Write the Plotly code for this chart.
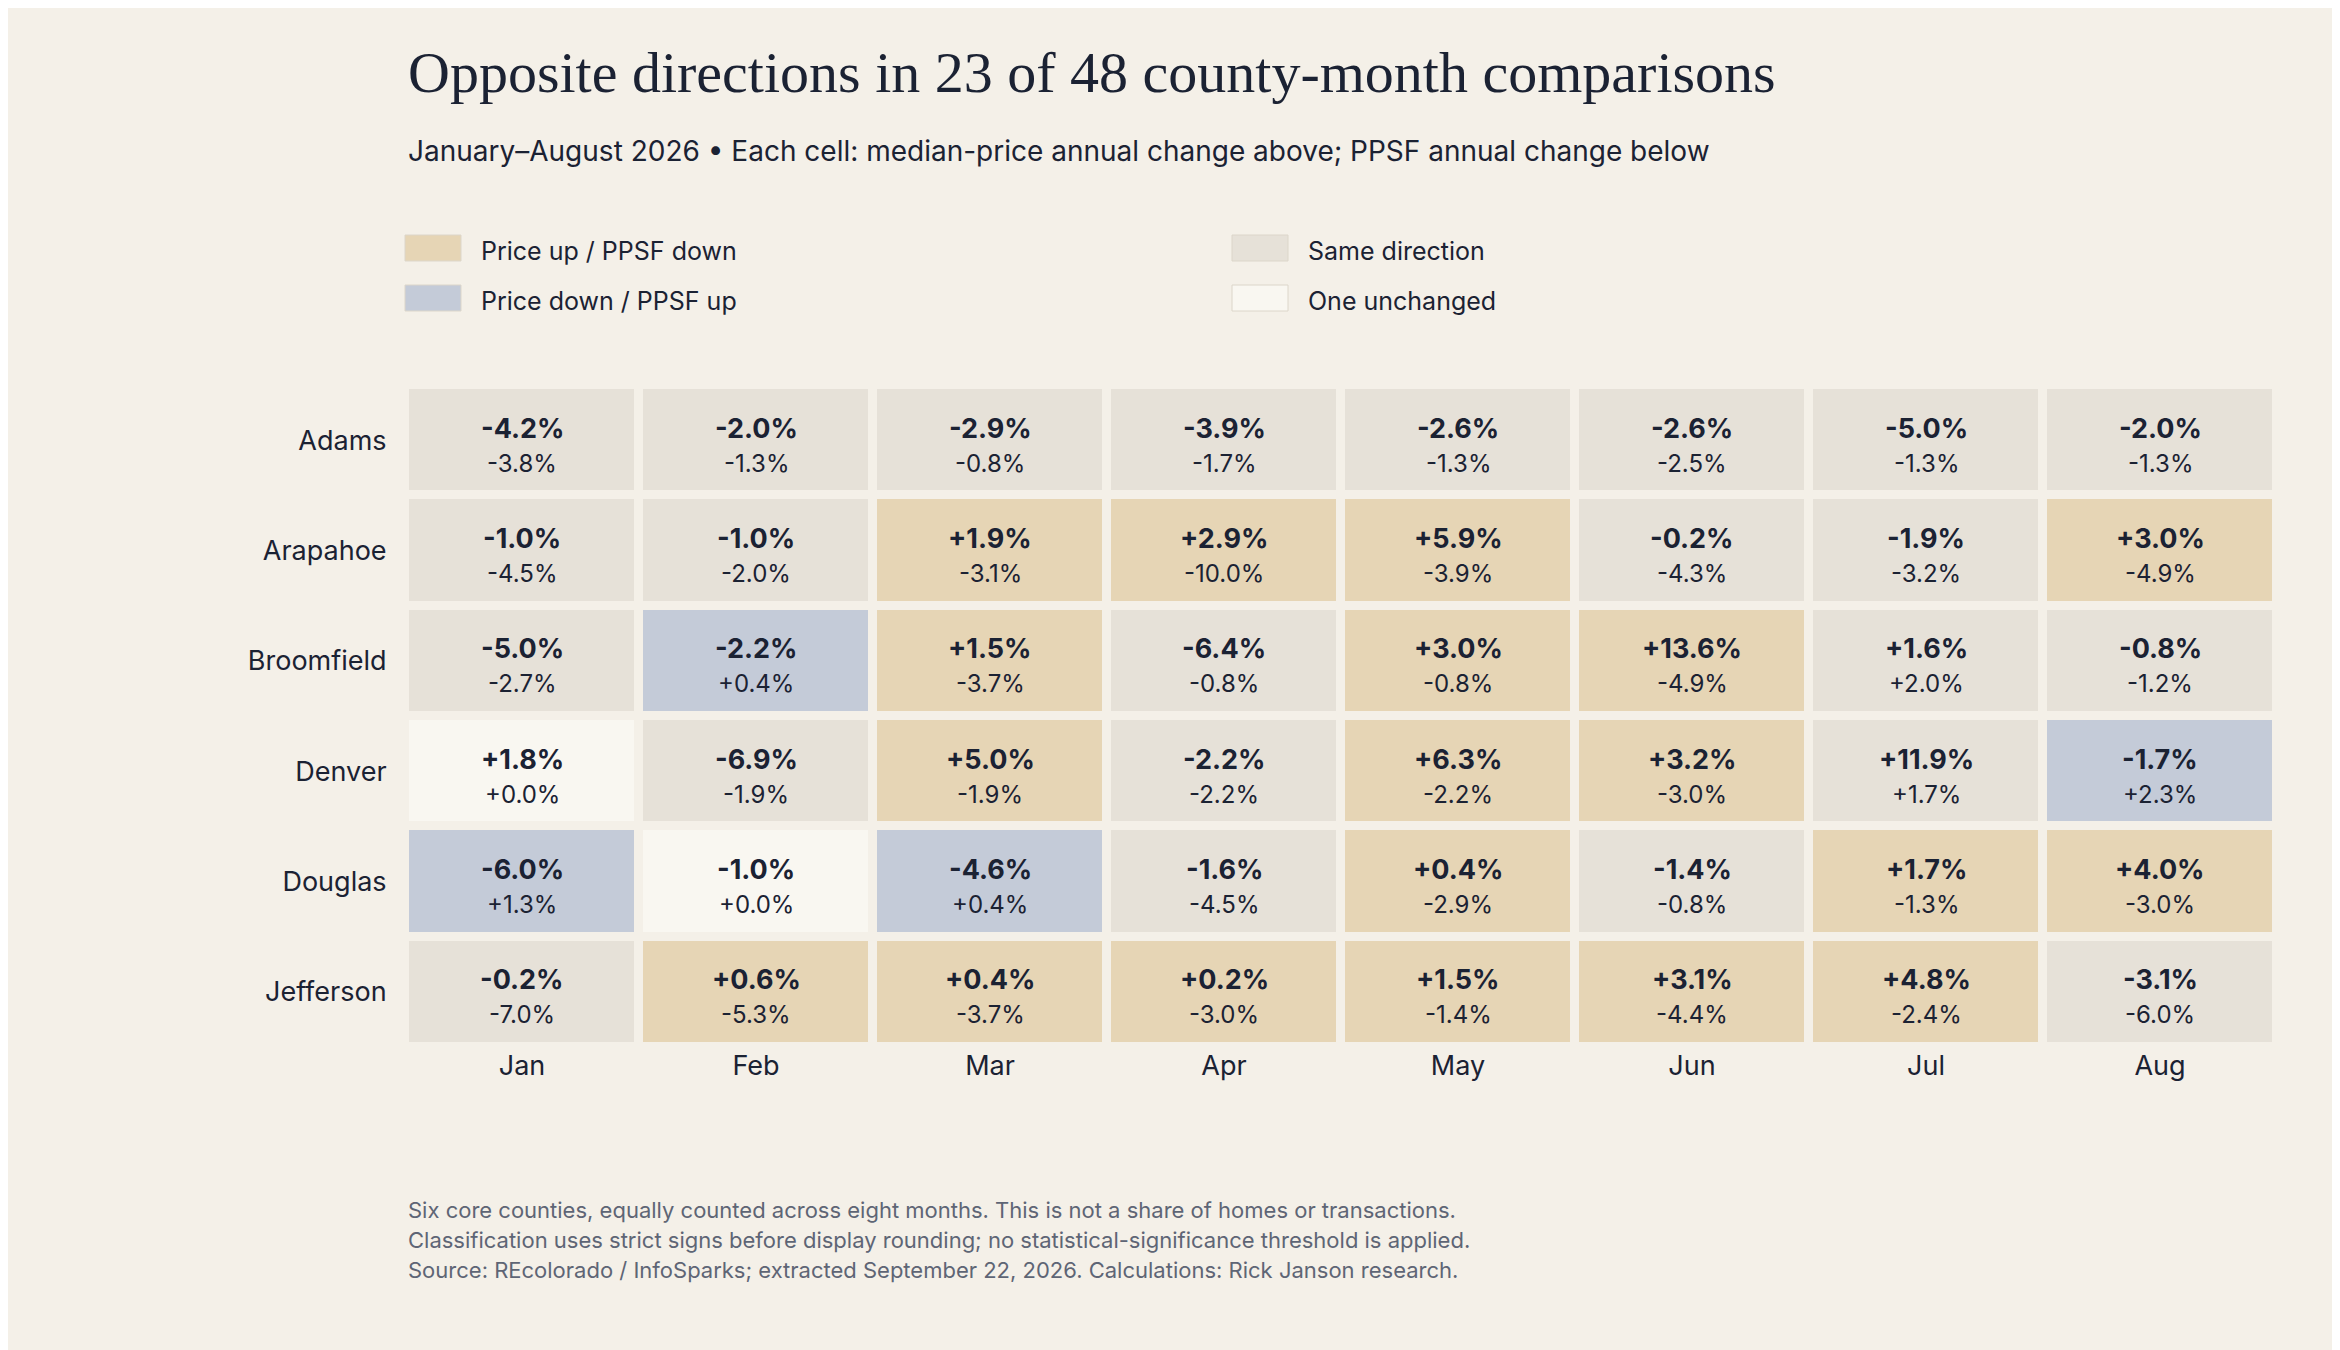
import plotly.graph_objects as go

W, H = 2340, 1350
counties = ["Adams", "Arapahoe", "Broomfield", "Denver", "Douglas", "Jefferson"]
months = ["Jan", "Feb", "Mar", "Apr", "May", "Jun", "Jul", "Aug"]
price = [
    [-4.2, -2.0, -2.9, -3.9, -2.6, -2.6, -5.0, -2.0],
    [-1.0, -1.0, 1.9, 2.9, 5.9, -0.2, -1.9, 3.0],
    [-5.0, -2.2, 1.5, -6.4, 3.0, 13.6, 1.6, -0.8],
    [1.8, -6.9, 5.0, -2.2, 6.3, 3.2, 11.9, -1.7],
    [-6.0, -1.0, -4.6, -1.6, 0.4, -1.4, 1.7, 4.0],
    [-0.2, 0.6, 0.4, 0.2, 1.5, 3.1, 4.8, -3.1],
]
ppsf = [
    [-3.8, -1.3, -0.8, -1.7, -1.3, -2.5, -1.3, -1.3],
    [-4.5, -2.0, -3.1, -10.0, -3.9, -4.3, -3.2, -4.9],
    [-2.7, 0.4, -3.7, -0.8, -0.8, -4.9, 2.0, -1.2],
    [0.0, -1.9, -1.9, -2.2, -2.2, -3.0, 1.7, 2.3],
    [1.3, 0.0, 0.4, -4.5, -2.9, -0.8, -1.3, -3.0],
    [-7.0, -5.3, -3.7, -3.0, -1.4, -4.4, -2.4, -6.0],
]
cat_names = ["Price up / PPSF down", "Price down / PPSF up", "Same direction", "One unchanged"]
cat_colors = ["#E6D5B5", "#C4CBD8", "#E6E1D8", "#F9F7F1"]

def cls(p, q):
    if p == 0 or q == 0:
        return 3
    if p > 0 and q < 0:
        return 0
    if p < 0 and q > 0:
        return 1
    return 2

z = [[cls(p, q) for p, q in zip(pr, qr)] for pr, qr in zip(price, ppsf)]
cs = []
for i, c in enumerate(cat_colors):
    cs += [[i / 4, c], [(i + 1) / 4, c]]

fig = go.Figure(go.Heatmap(z=z, x=months, y=counties, colorscale=cs, zmin=0, zmax=4,
                           showscale=False, xgap=9, ygap=9, hoverinfo="skip"))
ann = []
for r, cty in enumerate(counties):
    for c, m in enumerate(months):
        ann.append(dict(x=m, y=cty, xref="x", yref="y", yshift=12, showarrow=False,
                        text=f"<b>{price[r][c]:+.1f}%</b>", font=dict(size=27, color="#1B2233")))
        ann.append(dict(x=m, y=cty, xref="x", yref="y", yshift=-23, showarrow=False,
                        text=f"{ppsf[r][c]:+.1f}%", font=dict(size=24, color="#1B2233")))

font = "Inter, Noto Sans, sans-serif"
ann.append(dict(x=398/W, y=1-64/H, xref="paper", yref="paper", xanchor="left", yanchor="middle",
                showarrow=False, text="Opposite directions in 23 of 48 county-month comparisons",
                font=dict(family="Liberation Serif, serif", size=58, color="#1B2233")))
ann.append(dict(x=398/W, y=1-143/H, xref="paper", yref="paper", xanchor="left", yanchor="middle",
                showarrow=False,
                text="January–August 2026 • Each cell: median-price annual change above; PPSF annual change below",
                font=dict(size=28, color="#1B2233")))
foot = ["Six core counties, equally counted across eight months. This is not a share of homes or transactions.",
        "Classification uses strict signs before display rounding; no statistical-significance threshold is applied.",
        "Source: REcolorado / InfoSparks; extracted September 22, 2026. Calculations: Rick Janson research."]
for i, t in enumerate(foot):
    ann.append(dict(x=398/W, y=1-(1202+30*i)/H, xref="paper", yref="paper", xanchor="left", yanchor="middle",
                    showarrow=False, text=t, font=dict(size=22, color="#5E6575")))
shapes = []
pos = [(397, 240), (397, 290), (1224, 240), (1224, 290)]
for (x0, yc), name, col in zip(pos, cat_names, cat_colors):
    shapes.append(dict(type="rect", xref="paper", yref="paper", x0=x0/W, x1=(x0+56)/W,
                       y0=1-(yc-13)/H, y1=1-(yc+13)/H, fillcolor=col,
                       line=dict(color="#DCD6CA", width=1)))
    ann.append(dict(x=(x0+74)/W, y=1-(yc+3)/H, xref="paper", yref="paper", xanchor="left", yanchor="middle",
                    showarrow=False, text=name, font=dict(size=25, color="#1B2233")))

fig.update_layout(width=W, height=H, margin=dict(l=0, r=0, t=0, b=0),
                  paper_bgcolor="#F4F0E8", plot_bgcolor="#F4F0E8",
                  font=dict(family=font, color="#1B2233"),
                  annotations=ann, shapes=shapes)
fig.update_xaxes(domain=[397/W, 2269/W], side="bottom", showgrid=False, zeroline=False,
                 tickfont=dict(size=27), ticklen=0, ticks="")
fig.update_yaxes(domain=[1-1039/H, 1-377/H], autorange="reversed", showgrid=False, zeroline=False,
                 tickfont=dict(size=27), ticks="outside", ticklen=12, tickcolor="rgba(0,0,0,0)")
fig.write_html("out.html")
